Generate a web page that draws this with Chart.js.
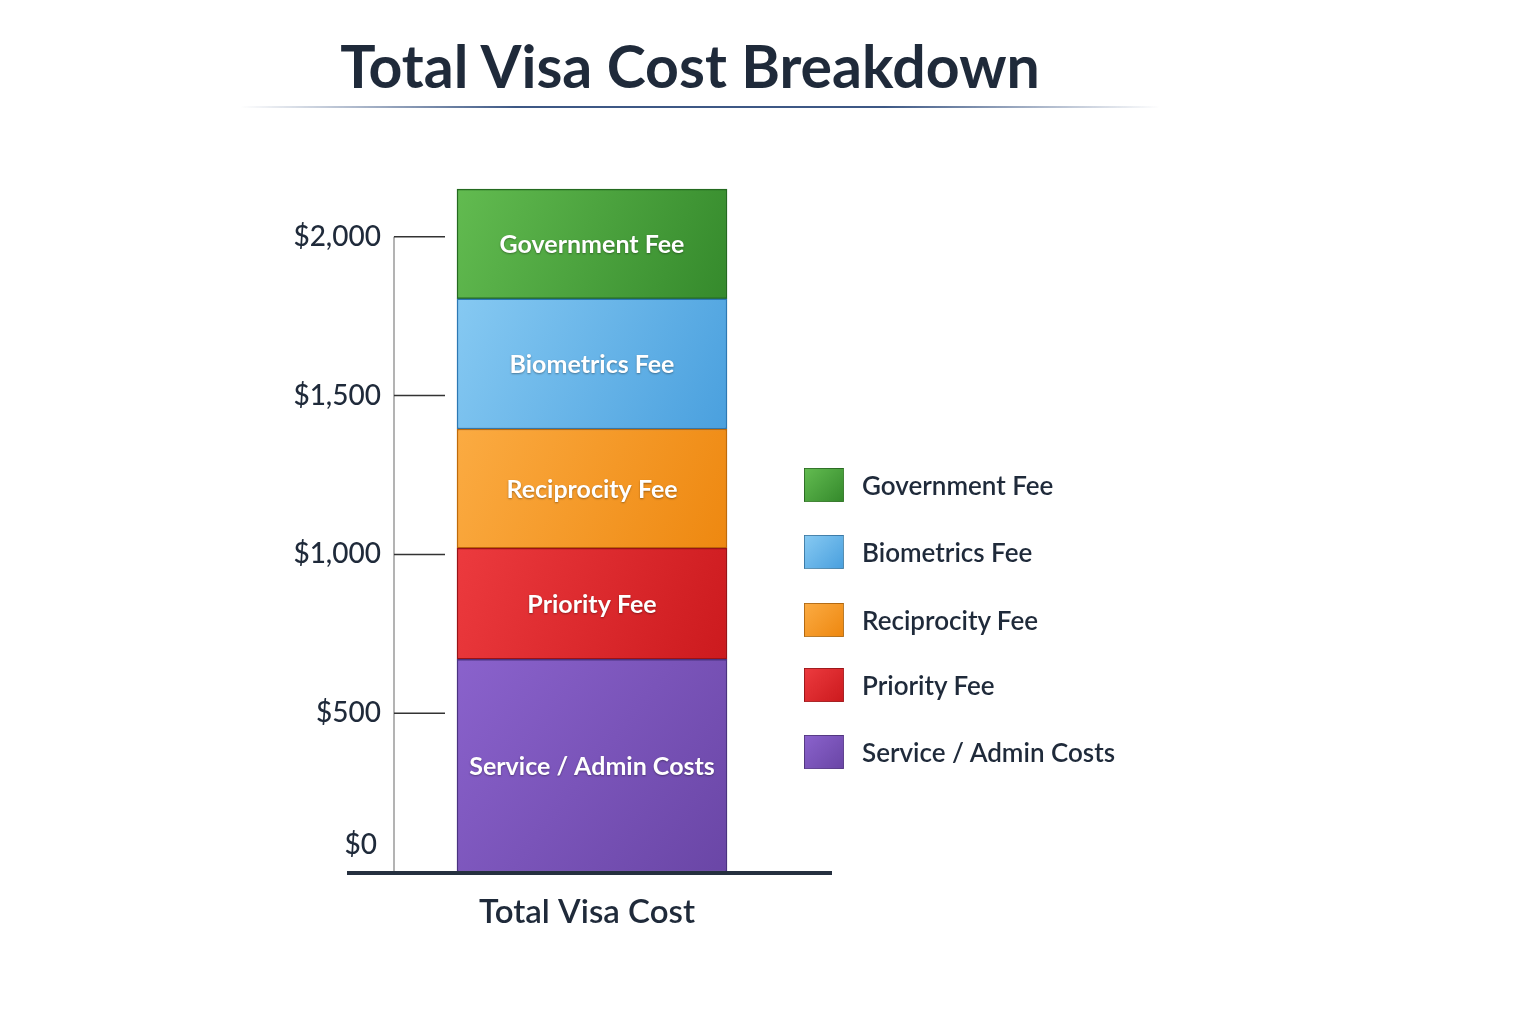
<!DOCTYPE html>
<html>
<head>
<meta charset="utf-8">
<script src="https://cdn.jsdelivr.net/npm/chart.js@4.4.1/dist/chart.umd.min.js"></script>
<style>
  html,body{margin:0;padding:0;background:#fff;}
  #wrap{position:relative;width:1536px;height:1024px;overflow:hidden;font-family:Lato,"Noto Sans",sans-serif;}
  #title{position:absolute;left:0;width:1380px;top:30px;text-align:center;font-size:59px;font-weight:700;color:#1f2a3a;}
  #rule{position:absolute;left:240px;top:106px;width:920px;height:2px;
    background:linear-gradient(90deg,rgba(40,70,120,0),rgba(40,70,120,0.9) 30%,rgba(40,70,120,0.9) 70%,rgba(40,70,120,0));}
  #legend{position:absolute;left:804px;top:0;}
  .item{position:absolute;left:0;display:flex;align-items:center;white-space:nowrap;}
  .sw{width:40px;height:34px;box-sizing:border-box;border:1px solid rgba(0,0,0,0.25);}
  .lbl{margin-left:18px;font-size:26px;font-weight:600;color:#1f2a3a;}
  canvas{position:absolute;left:0;top:0;}
</style>
</head>
<body>
<div id="wrap">
  <canvas id="c" width="1536" height="1024"></canvas>
  <div id="title">Total Visa Cost Breakdown</div>
  <div id="rule"></div>
  <div id="legend"></div>
</div>
<script>
// data, bottom of the stack first
const categories = ['Total Visa Cost'];
const seriesNames = ['Service / Admin Costs', 'Priority Fee', 'Reciprocity Fee', 'Biometrics Fee', 'Government Fee'];
const seriesValues = [670, 350, 375, 410, 345];
const tickValues = [0, 500, 1000, 1500, 2000];
const tickLabels = ['$0', '$500', '$1,000', '$1,500', '$2,000'];

// top-left / bottom-right / edge colours per series
const lightColors = ['#8a62cc', '#ec3a3e', '#fbab42', '#86c9f2', '#62bb50'];
const darkColors  = ['#6a46a6', '#cc1a1e', '#ee8810', '#4aa0de', '#358a2c'];
const edgeColors  = ['#4a3280', '#9a1216', '#c06a08', '#2c78b4', '#246a20'];

const cumulative = [];
seriesValues.reduce((acc, v, i) => { cumulative[i] = [acc, acc + v]; return acc + v; }, 0);

function segmentFill(i){
  return function(ctx){
    const chart = ctx.chart;
    const area = chart.chartArea;
    if(!area) return lightColors[i];
    const y = chart.scales.y;
    const x = chart.scales.x;
    const cx = x.getPixelForValue(0);
    const g = chart.ctx.createLinearGradient(cx - 135, y.getPixelForValue(cumulative[i][1]), cx + 135, y.getPixelForValue(cumulative[i][0]));
    g.addColorStop(0, lightColors[i]);
    g.addColorStop(1, darkColors[i]);
    return g;
  };
}

const datasets = seriesNames.map((name, i) => ({
  label: name,
  data: [seriesValues[i]],
  backgroundColor: segmentFill(i),
  borderColor: edgeColors[i],
  borderWidth: 1.5,
  borderSkipped: false,
  barThickness: 270
}));

// legend (top to bottom = top of stack first)
const legendRows = [485, 552, 620, 685, 752];
const legendEl = document.getElementById('legend');
seriesNames.slice().reverse().forEach((name, k) => {
  const i = seriesNames.length - 1 - k;
  const row = document.createElement('div');
  row.className = 'item';
  row.style.top = (legendRows[k] - 17) + 'px';
  row.innerHTML = `<div class="sw" style="background:linear-gradient(135deg,${lightColors[i]},${darkColors[i]})"></div><div class="lbl">${name}</div>`;
  legendEl.appendChild(row);
});

const FONT = 'Lato, "Noto Sans", sans-serif';

const decorations = {
  id: 'decorations',
  afterDatasetsDraw(chart){
    const c = chart.ctx;
    const y = chart.scales.y;
    const area = chart.chartArea;
    const axisX = area.left;
    c.save();
    // vertical axis line
    c.strokeStyle = '#9a9a9a';
    c.lineWidth = 1.5;
    c.beginPath();
    c.moveTo(axisX, y.getPixelForValue(tickValues[tickValues.length - 1]));
    c.lineTo(axisX, area.bottom);
    c.stroke();
    // ticks and labels
    c.font = `500 28px ${FONT}`;
    c.fillStyle = '#1f2a3a';
    c.textAlign = 'right';
    c.textBaseline = 'middle';
    tickValues.forEach((v, i) => {
      const py = y.getPixelForValue(v);
      if(v !== 0){
        c.strokeStyle = '#333';
        c.lineWidth = 1.5;
        c.beginPath();
        c.moveTo(axisX, py);
        c.lineTo(axisX + 51, py);
        c.stroke();
        c.fillText(tickLabels[i], axisX - 13, py);
      } else {
        c.fillText(tickLabels[i], axisX - 17, py - 27);
      }
    });
    // segment labels
    c.textAlign = 'center';
    c.font = `700 25px ${FONT}`;
    chart.data.datasets.forEach((ds, di) => {
      const el = chart.getDatasetMeta(di).data[0];
      const props = el.getProps(['x', 'y', 'base'], true);
      c.shadowColor = 'rgba(0,0,0,0.35)';
      c.shadowBlur = 2;
      c.shadowOffsetY = 1;
      c.fillStyle = '#ffffff';
      c.fillText(ds.label, props.x, (props.y + props.base) / 2 + 1);
    });
    c.shadowColor = 'transparent';
    // baseline
    c.strokeStyle = '#25303f';
    c.lineWidth = 4;
    c.beginPath();
    c.moveTo(axisX - 47, area.bottom + 1);
    c.lineTo(axisX + 438, area.bottom + 1);
    c.stroke();
    // category label
    c.font = `600 33px ${FONT}`;
    c.fillStyle = '#1f2a3a';
    c.fillText(categories[0], chart.scales.x.getPixelForValue(0) - 5, area.bottom + 40);
    c.restore();
  }
};

new Chart(document.getElementById('c'), {
  type: 'bar',
  data: { labels: categories, datasets },
  options: {
    responsive: false,
    animation: false,
    devicePixelRatio: 1,
    layout: { padding: { left: 394, right: 746, top: 186, bottom: 152 } },
    scales: {
      x: { stacked: true, display: false },
      y: { stacked: true, display: false, min: 0, max: 2160 }
    },
    plugins: {
      legend: { display: false },
      tooltip: { enabled: false },
      title: { display: false }
    }
  },
  plugins: [decorations]
});
</script>
</body>
</html>
